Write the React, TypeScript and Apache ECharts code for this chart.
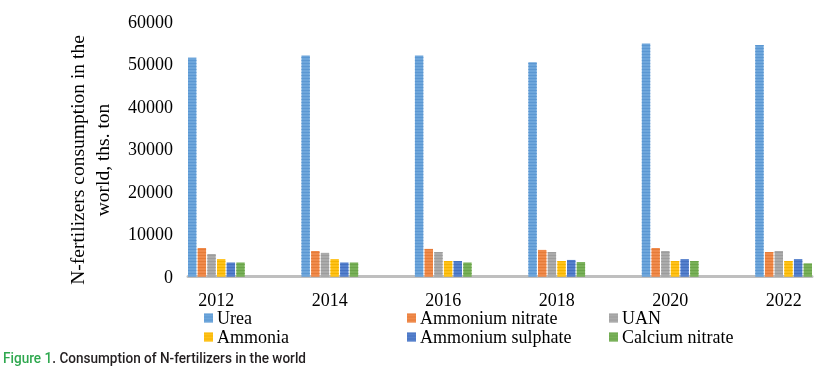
import React, { useEffect, useRef } from "react";
import * as echarts from "echarts";

const years = ["2012", "2013", "2014", "2015", "2016", "2017", "2018", "2019", "2020", "2021", "2022"];
const seriesNames = ["Urea", "Ammonium nitrate", "UAN", "Ammonia", "Ammonium sulphate", "Calcium nitrate"];
const urea = [51500, null, 52000, null, 52000, null, 50400, null, 54800, null, 54500];
const ammoniumNitrate = [6700, null, 6000, null, 6500, null, 6250, null, 6700, null, 5750];
const uan = [5300, null, 5550, null, 5750, null, 5750, null, 6000, null, 6000];
const ammonia = [4100, null, 4100, null, 3650, null, 3650, null, 3650, null, 3650];
const ammoniumSulphate = [3300, null, 3300, null, 3650, null, 3900, null, 4100, null, 4100];
const calciumNitrate = [3300, null, 3300, null, 3300, null, 3400, null, 3650, null, 3100];
const yTicks = [0, 10000, 20000, 30000, 40000, 50000, 60000];

const colors = ["#6ea6db", "#f08b4c", "#ababab", "#ffc21a", "#5681cd", "#79b159"];
const stripe = ["#5b97d2", "#e57b38", "#9c9c9c", "#f5b400", "#4470c0", "#6aa44a"];

export default function App() {
  const ref = useRef<HTMLDivElement>(null);
  useEffect(() => {
    if (!ref.current) return;
    const chart = echarts.init(ref.current, undefined, { renderer: "svg" });
    const values = [urea, ammoniumNitrate, uan, ammonia, ammoniumSulphate, calciumNitrate];
    const serif = "'Liberation Serif', 'Times New Roman', serif";
    const legendPos = [
      { left: 204, top: 309 },
      { left: 407, top: 309 },
      { left: 609, top: 309 },
      { left: 204, top: 328 },
      { left: 407, top: 328 },
      { left: 609, top: 328 },
    ];
    chart.setOption({
      animation: false,
      grid: { left: 188, right: 6, top: 21.5, bottom: 102.5, containLabel: false },
      xAxis: {
        type: "category",
        data: years,
        axisLine: { show: true, lineStyle: { color: "#bfbfbf", width: 3 } },
        axisTick: { show: false },
        axisLabel: { interval: 1, fontFamily: serif, fontSize: 18, color: "#000", margin: 14 },
        splitLine: { show: false },
      },
      yAxis: {
        type: "value",
        min: yTicks[0],
        max: yTicks[yTicks.length - 1],
        interval: 10000,
        axisLine: { show: false },
        axisTick: { show: false },
        splitLine: { show: false },
        axisLabel: {
          fontFamily: serif,
          fontSize: 18,
          color: "#000",
          margin: 15,
          formatter: (v: number) => String(v),
        },
      },
      legend: seriesNames.map((n, i) => ({
        data: [n],
        left: legendPos[i].left,
        top: legendPos[i].top,
        padding: 0,
        icon: "rect",
        itemWidth: 9,
        itemHeight: 9,
        selectedMode: false,
        textStyle: { fontFamily: serif, fontSize: 18, color: "#000", lineHeight: 18, padding: [0, 0, 0, -1] },
      })),
      series: seriesNames.map((n, i) => ({
        name: n,
        type: "bar",
        data: values[i],
        barGap: "15%",
        barCategoryGap: "0%",
        itemStyle: {
          color: colors[i],
          decal: {
            symbol: "rect",
            symbolSize: 1,
            dashArrayX: [[1, 0]],
            dashArrayY: [1, 2],
            rotation: 0,
            color: stripe[i],
          },
        },
      })),
      graphic: [
        {
          type: "text",
          x: 89.5,
          y: 160,
          rotation: Math.PI / 2,
          style: {
            text: "N-fertilizers consumption in the\nworld, ths. ton",
            fontFamily: serif,
            fontSize: 19.5,
            lineHeight: 25,
            fill: "#000",
            align: "center",
            verticalAlign: "middle",
          },
        },
        {
          type: "text",
          x: 3,
          y: 358,
          scaleX: 0.97,
          style: {
            text: "{g|Figure 1}{d|. Consumption of N-fertilizers in the world}",
            verticalAlign: "middle",
            rich: {
              g: { fontFamily: "Roboto", fontSize: 14, fontWeight: 500, fill: "#2fa84f" },
              d: { fontFamily: "Roboto", fontSize: 14, fontWeight: 500, fill: "#231f20" },
            },
          },
        },
      ],
    });
    return () => chart.dispose();
  }, []);
  return <div ref={ref} style={{ position: "fixed", left: 0, top: 0, width: 818, height: 379 }} />;
}
